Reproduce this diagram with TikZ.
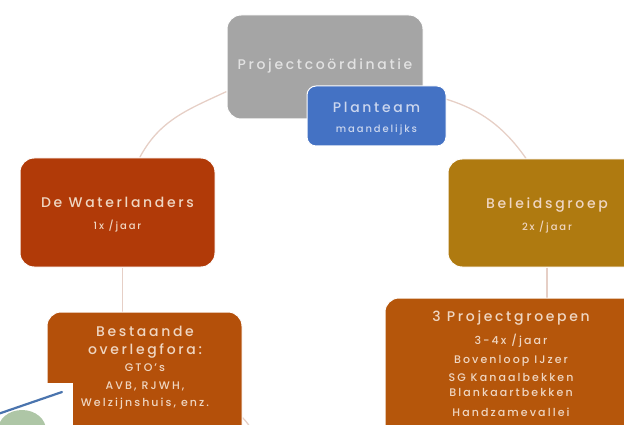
\documentclass[tikz,border=0pt]{standalone}
\usepackage{fontspec}
\setmainfont{Poppins}[UprightFont={* Medium}, LetterSpace=19]
\usetikzlibrary{backgrounds,calc}

\definecolor{projgray}{HTML}{A5A5A5}
\definecolor{projtext}{HTML}{E2E2E2}
\definecolor{planblue}{HTML}{4472C4}
\definecolor{plantext}{HTML}{CBD6EE}
\definecolor{watred}{HTML}{B13A08}
\definecolor{belgold}{HTML}{AF7A10}
\definecolor{besorange}{HTML}{B4500A}
\definecolor{pgorange}{HTML}{B5560B}
\definecolor{warmtext}{HTML}{EFD6C2}
\definecolor{cycleline}{HTML}{E6CFC6}
\definecolor{stemblue}{HTML}{4A74AE}
\definecolor{leafgreen}{HTML}{AEC6A6}

\newcommand{\bigtxt}{\fontsize{14}{18}\selectfont}
\newcommand{\midtxt}{\fontsize{11}{17}\selectfont}
\newcommand{\smalltxt}{\fontsize{10}{14}\selectfont}

\begin{document}
\begin{tikzpicture}[x=1pt,y=-1pt,
  box/.style={rounded corners=14pt, draw=white, line width=1pt, inner sep=0pt},
  label/.style={align=center, inner sep=0pt},
  cycle/.style={draw=cycleline, line width=1.3pt}]
\useasboundingbox (0,0) rectangle (624,425);
\clip (0,0) rectangle (624,425);

% boxes of the cycle
\node[box, fill=projgray, minimum width=196pt, minimum height=104pt] (proj) at (325,67) {};
\node[box, rounded corners=9pt, fill=planblue, minimum width=139pt, minimum height=60pt] (plan) at (376.5,116) {};
\node[box, fill=watred, minimum width=195pt, minimum height=109pt] (wat) at (117.5,212.5) {};
\node[box, fill=belgold, minimum width=198pt, minimum height=108pt] (bel) at (547,213) {};
\node[box, fill=besorange, minimum width=195pt, minimum height=128pt] (bes) at (144.5,376) {};
\node[box, fill=pgorange, minimum width=252pt, minimum height=142pt] (pg) at (511,369) {};

% texts inside the boxes
\node[label, text=projtext] (projtext) at ([yshift=1pt]proj) {\bigtxt Projectcoördinatie};
\node[label, text=plantext, font=\fontsize{10}{20}\selectfont] (plantext) at ([yshift=-2.5pt]plan)
  {\bigtxt Planteam\\\smalltxt maandelijks};
\node[label, text=warmtext, font=\fontsize{10}{22}\selectfont] (wattext) at ([yshift=-2.5pt]wat)
  {\bigtxt De Waterlanders\\\smalltxt 1x /jaar};
\node[label, text=warmtext, font=\fontsize{10}{22}\selectfont] (beltext) at ([yshift=-2pt]bel)
  {\bigtxt Beleidsgroep\\\smalltxt 2x /jaar};
\node[label, text=warmtext, anchor=north, font=\fontsize{11}{17.5}\selectfont] (bestext) at (145,326)
  {\bigtxt Bestaande\\
   \bigtxt overlegfora:\\
   \midtxt GTO's\\
   \midtxt AVB, RJWH,\\
   \midtxt Welzijnshuis, enz.};
\node[label, text=warmtext, anchor=north, font=\fontsize{11}{17}\selectfont] (pgtext) at (511,310.5)
  {\bigtxt 3 Projectgroepen\\[6pt]
   \midtxt 3-4x /jaar\\[2pt]
   \midtxt Bovenloop IJzer\\[1pt]
   \midtxt SG Kanaalbekken\\[-2pt]
   \midtxt Blankaartbekken\\[3pt]
   \midtxt Handzamevallei};

% connecting arcs behind the boxes
\begin{scope}[on background layer]
  \draw[cycle] (proj.194) to[out=205, in=62] (wat.68);
  \draw[cycle] (proj.345) to[out=-12, in=125] (bel.111);
  \draw[cycle] (wat.-85) -- (bes.north -| wat.-85);
  \draw[cycle] (bel.south) -- (pg.north -| bel.south);
  \coordinate (besout) at (254,432);
  \draw[cycle] (bes.-23) to[out=-45, in=130] (besout);
\end{scope}

% picture in the lower left corner
\fill[white] (0,383) rectangle (73,425);
\fill[leafgreen] (22,430) ellipse (24pt and 20pt);
\draw[stemblue, line width=2.2pt, line cap=round] (-2,414) -- (62,392);
\end{tikzpicture}
\end{document}
